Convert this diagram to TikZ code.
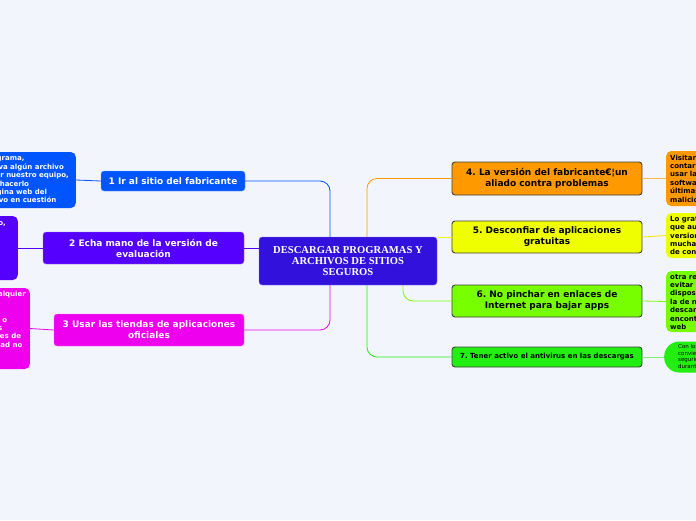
\documentclass[tikz,border=0pt]{standalone}
\usepackage{fontspec}
\setmainfont{Liberation Serif}
\newfontfamily\mapfont{DejaVu Sans}
\definecolor{paper}{HTML}{F3F5FD}
\definecolor{rootcol}{HTML}{3311DD}
\definecolor{azul}{HTML}{0055FF}
\definecolor{violeta}{HTML}{5500FF}
\definecolor{fucsia}{HTML}{EE00EE}
\definecolor{naranja}{HTML}{FF9900}
\definecolor{amarillo}{HTML}{F0FF00}
\definecolor{lima}{HTML}{77FF00}
\definecolor{verde}{HTML}{22EE11}
\frenchspacing
\begin{document}
\begin{tikzpicture}[x=1pt,y=-1pt,
    root/.style={fill=rootcol,draw=rootcol!55!white,rounded corners=3pt,text=white,align=center,
      minimum width=178,minimum height=48,inner sep=0pt,font=\bfseries\fontsize{10.6}{11}\selectfont},
    topic/.style={rounded corners=3pt,align=center,inner sep=0pt,
      font=\mapfont\bfseries\fontsize{9}{11}\selectfont},
    lefttopic/.style={topic,text=white,fill=#1,draw=#1!55!white},
    righttopic/.style={topic,fill=#1,draw=black!75,line width=0.9pt,minimum width=190},
    note/.style={rounded corners=5pt,align=left,inner xsep=5pt,inner ysep=2pt,
      font=\mapfont\bfseries\fontsize{7}{8.4}\selectfont},
    link/.style={line width=0.8pt,rounded corners=10pt}]
\useasboundingbox[fill=paper] (0,0) rectangle (696,520);
\node[root] (main) at (348,261) {DESCARGAR PROGRAMAS Y\\ARCHIVOS DE SITIOS\\SEGUROS};
\node[lefttopic=azul,minimum width=144,minimum height=20] (sitio) at (173,181) {1 Ir al sitio del fabricante};
\node[lefttopic=violeta,minimum width=201,minimum height=32] (prueba) at (143.5,248) {2 Echa mano de la versión de\\evaluación};
\node[lefttopic=fucsia,minimum width=190,minimum height=32] (tiendas) at (149,330) {3 Usar las tiendas de aplicaciones\\oficiales};
\node[righttopic=naranja,minimum height=33] (original) at (547,178.5) {4. La versión del fabricante€¦un\\aliado contra problemas};
\node[righttopic=amarillo,minimum height=32] (gratis) at (547,237) {5. Desconfiar de aplicaciones\\gratuitas};
\node[righttopic=lima,minimum height=32] (enlaces) at (547,301) {6. No pinchar en enlaces de\\Internet para bajar apps};
\node[righttopic=verde,minimum height=20,font=\mapfont\bfseries\fontsize{7}{8}\selectfont] (antivirus) at (547,357) {7. Tener activo el antivirus en las descargas};
\node[note,fill=azul,text=white,anchor=east,minimum height=56,inner xsep=7pt] (sitiotxt) at (76,180) {Si queremos un programa,\\o si un programa lleva algún archivo\\que pueda perjudicar nuestro equipo,\\lo mejor siempre es hacerlo\\directamente en página web del\\del móvil o dispositivo en cuestión};
\node[note,fill=violeta,text=white,anchor=east,minimum height=64,inner xsep=12pt] (pruebatxt) at (18,248) {Para probar un software antes de pagarlo,\\muchos fabricantes ofrecen\\versiones de evaluación\\gratuitas y por tiempo\\limitado que se pueden\\descargar desde su\\web oficial};
\node[note,fill=fucsia,text=white,anchor=east,minimum height=81,inner xsep=4pt] (tiendastxt) at (30,328.5) {Es mejor no descargar de cualquier\\página y acudir a\\las tiendas de apps oficiales,\\como Google Play, App Store o\\Microsoft Store, ya que estas\\y además cuenta con controles de\\que una web de baja seguridad no\\puede\\garantizar};
\node[note,fill=naranja,anchor=west,minimum height=55,inner xsep=4pt] (originaltxt) at (666,178.5) {Visitar la web oficial del fabricante y\\contar con la versión original permite\\usar la última versión del\\software, con las\\últimas defensas frente a código\\malicioso};
\node[note,fill=amarillo,anchor=west,minimum height=45,inner xsep=4pt] (gratistxt) at (666,235.5) {Lo gratuito puede salir caro, ya\\que aunque existen muchas\\versiones gratuitas, en\\muchas ocasiones esconden código\\de contenido malicioso};
\node[note,fill=lima,anchor=west,minimum height=61,inner xsep=4pt] (enlacestxt) at (666,301.5) {otra recomendación para\\evitar riesgos en nuestros\\dispositivos es\\la de no pinchar en enlaces\\descargar aplicaciones que\\encontremos en cualquier\\web};
\node[note,fill=verde,anchor=west,minimum height=31,rounded corners=15pt,inner xsep=14pt,
  font=\mapfont\fontsize{5.5}{6.8}\selectfont] (antivirustxt) at (664,357) {Con los antivirus activos\\conviene mantener la\\seguridad de nuestro equipo\\durante las descargas};
\draw[link,azul] (sitio.east) -| ([xshift=-18pt]main.north);
\draw[link,violeta] (prueba.east) -- (main.west |- prueba.east);
\draw[link,fucsia] (tiendas.east) -| ([xshift=-18pt]main.south);
\draw[link,naranja] (original.west) -| ([xshift=19pt]main.north);
\draw[link,amarillo] (gratis.west) -- (main.east |- gratis.west);
\draw[link,lima] (enlaces.west) -| ([xshift=55pt]main.south);
\draw[link,verde] (antivirus.west) -| ([xshift=19pt]main.south);
\draw[link,azul] (sitiotxt.east) -- (sitio.west);
\draw[link,violeta] (pruebatxt.east) -- (prueba.west);
\draw[link,fucsia] (tiendastxt.east) -- (tiendas.west);
\draw[link,naranja!70] (original.east) -- (originaltxt.west);
\draw[link,amarillo!80!orange] (gratis.east) -- (gratistxt.west);
\draw[link,lima] (enlaces.east) -- (enlacestxt.west);
\draw[link,verde!60] (antivirus.east) -- (antivirustxt.west);
\end{tikzpicture}
\end{document}
